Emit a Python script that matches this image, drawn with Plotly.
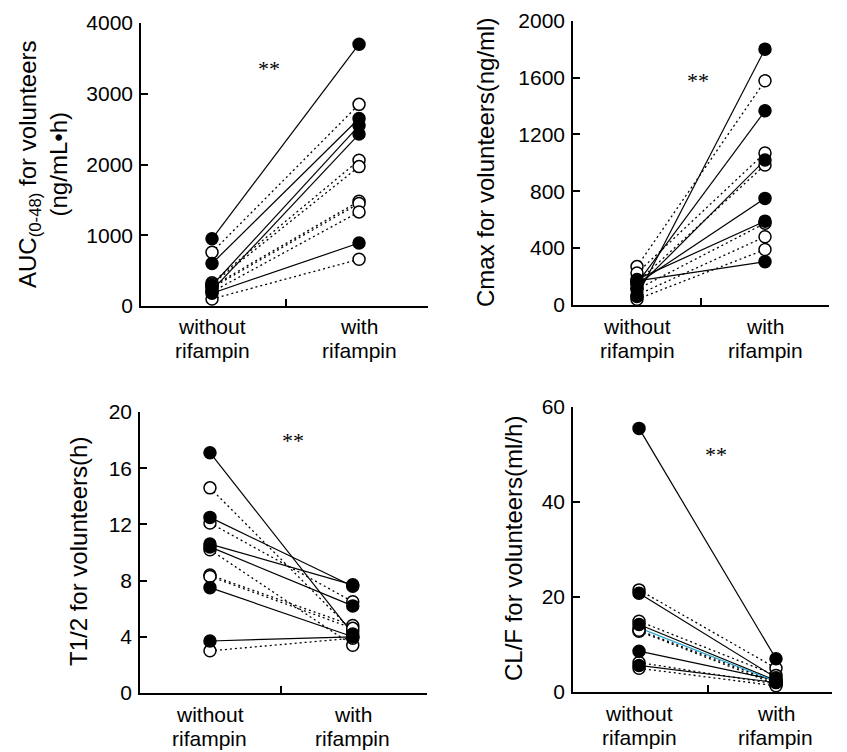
import plotly.graph_objects as go

W, H = 847, 752
OFF = 8                     # page body margin of the html page
WF, HF = W - OFF, H - OFF   # figure size so that it fits the window


def px_x(v):
    return (v - OFF) / WF


def px_y(v):
    return 1 - (v - OFF) / HF


# ---------------- data ----------------
cat_top = ["without", "with"]
cat_bottom = ["rifampin", "rifampin"]

# Panel 1: AUC(0-48)
auc_without = [950, 600, 290, 220, 180, 760, 330, 310, 280, 260, 200, 100]
auc_with    = [3700, 2650, 2550, 2430, 890, 2850, 2060, 1970, 1480, 1450, 1330, 660]
auc_filled  = [1, 1, 1, 1, 1, 0, 0, 0, 0, 0, 0, 0]

# Panel 2: Cmax
cmax_without = [60, 150, 120, 150, 180, 170, 270, 225, 160, 110, 70, 40]
cmax_with    = [1800, 1366, 1020, 750, 590, 305, 1577, 1070, 985, 575, 480, 390]
cmax_filled  = [1, 1, 1, 1, 1, 1, 0, 0, 0, 0, 0, 0]

# Panel 3: T1/2
t12_without = [17.1, 12.5, 10.6, 10.4, 7.5, 3.7, 14.6, 12.1, 10.2, 8.4, 8.3, 3.0]
t12_with    = [4.2, 7.6, 7.7, 6.2, 4.0, 4.0, 4.4, 6.5, 3.4, 4.8, 4.6, 3.9]
t12_filled  = [1, 1, 1, 1, 1, 1, 0, 0, 0, 0, 0, 0]

# Panel 4: CL/F
clf_without = [55.5, 20.8, 14.2, 8.6, 5.6, 21.5, 14.9, 13.5, 12.8, 6.2, 5.0, 13.0]
clf_with    = [7.0, 3.0, 2.4, 2.5, 2.0, 5.0, 3.5, 2.2, 1.6, 1.7, 1.3, 2.0]
clf_filled  = [1, 1, 1, 1, 1, 0, 0, 0, 0, 0, 0, 0]
clf_cyan    = [0, 0, 0, 0, 0, 0, 0, 1, 0, 0, 0, 0]

titles = [
    "AUC<sub>(0-48)</sub> for volunteers<br>(ng/mL•h)",
    "Cmax for volunteers(ng/ml)",
    "T1/2 for volunteers(h)",
    "CL/F for volunteers(ml/h)",
]

# ---------------- layout geometry (window pixels) ----------------
panels = [
    dict(wo=auc_without, wi=auc_with, f=auc_filled, cy=None,
         px=(141, 428), py=(23, 306), xr=(-0.483, 1.469), yr=(0, 4000), dt=1000,
         star=(0.39, 3350), tx=43, ty=164),
    dict(wo=cmax_without, wi=cmax_with, f=cmax_filled, cy=None,
         px=(573, 829), py=(20.7, 305), xr=(-0.5, 1.5), yr=(0, 2000), dt=400,
         star=(0.48, 1580), tx=485, ty=163),
    dict(wo=t12_without, wi=t12_with, f=t12_filled, cy=None,
         px=(140, 427), py=(412, 693), xr=(-0.49, 1.52), yr=(0, 20), dt=4,
         star=(0.58, 18.0), tx=78, ty=552),
    dict(wo=clf_without, wi=clf_with, f=clf_filled, cy=clf_cyan,
         px=(573, 832), py=(407, 692), xr=(-0.482, 1.409), yr=(0, 60), dt=20,
         star=(0.56, 50), tx=513, ty=549),
]

fig = go.Figure()
annotations = []
FONT = "Liberation Sans, Arial, Helvetica, sans-serif"

for i, p in enumerate(panels):
    n = i + 1
    xa = "x" if n == 1 else f"x{n}"
    ya = "y" if n == 1 else f"y{n}"
    # connecting lines first
    for k in range(len(p["wo"])):
        filled = p["f"][k] == 1
        cyan = p["cy"] is not None and p["cy"][k] == 1
        if cyan:
            color, dash = "#2aa7d6", "solid"
        else:
            color, dash = "black", ("solid" if filled else "2px,3px")
        fig.add_trace(go.Scatter(
            x=[0, 1], y=[p["wo"][k], p["wi"][k]], mode="lines",
            line=dict(color=color, width=1.3 if not filled else 1.2, dash=dash),
            xaxis=xa, yaxis=ya, showlegend=False, hoverinfo="skip", cliponaxis=False))
    # markers
    for filled in (0, 1):
        xs, ys = [], []
        for k in range(len(p["wo"])):
            if p["f"][k] == filled:
                xs += [0, 1]
                ys += [p["wo"][k], p["wi"][k]]
        fig.add_trace(go.Scatter(
            x=xs, y=ys, mode="markers",
            marker=dict(symbol="circle", size=12,
                        color="black" if filled else "white",
                        line=dict(color="black", width=1.5)),
            xaxis=xa, yaxis=ya, showlegend=False, cliponaxis=False))

    x0, x1 = px_x(p["px"][0]), px_x(p["px"][1])
    y0, y1 = px_y(p["py"][1]), px_y(p["py"][0])
    xkey = "xaxis" if n == 1 else f"xaxis{n}"
    ykey = "yaxis" if n == 1 else f"yaxis{n}"
    fig.update_layout(**{
        xkey: dict(domain=[x0, x1], range=list(p["xr"]), anchor=ya,
                   showline=True, linecolor="black", linewidth=1.5,
                   showgrid=False, zeroline=False, automargin=False,
                   tickvals=[0.5, p["xr"][1]], showticklabels=False,
                   ticks="inside", ticklen=7, tickwidth=1.5, tickcolor="black"),
        ykey: dict(domain=[y0, y1], range=list(p["yr"]), anchor=xa,
                   showline=True, linecolor="black", linewidth=1.5,
                   showgrid=False, zeroline=False, automargin=False,
                   tick0=0, dtick=p["dt"], ticks="inside", ticklen=7,
                   tickwidth=1.5, tickcolor="black", ticklabelstandoff=2,
                   tickfont=dict(family=FONT, size=21, color="black")),
    })
    # category labels (two lines each)
    base = p["py"][1]
    for c in range(2):
        annotations.append(dict(x=c, y=px_y(base + 21), xref=xa, yref="paper",
                                text=cat_top[c], showarrow=False,
                                xanchor="center", yanchor="middle",
                                font=dict(family=FONT, size=21, color="black")))
        annotations.append(dict(x=c, y=px_y(base + 45), xref=xa, yref="paper",
                                text=cat_bottom[c], showarrow=False,
                                xanchor="center", yanchor="middle",
                                font=dict(family=FONT, size=21, color="black")))
    # significance stars
    annotations.append(dict(x=p["star"][0], y=p["star"][1], xref=xa, yref=ya,
                            text="**", showarrow=False,
                            font=dict(family="Liberation Serif, Times New Roman, serif",
                                      size=22, color="black")))
    # y titles
    annotations.append(dict(x=px_x(p["tx"]), y=px_y(p["ty"]), xref="paper", yref="paper",
                            text=titles[i], textangle=-90, showarrow=False,
                            xanchor="center", yanchor="middle",
                            font=dict(family=FONT, size=24, color="black")))

fig.update_layout(
    width=WF, height=HF, margin=dict(l=0, r=0, t=0, b=0, autoexpand=False),
    paper_bgcolor="white", plot_bgcolor="white",
    annotations=annotations, showlegend=False,
)

fig.write_html("out.html")
